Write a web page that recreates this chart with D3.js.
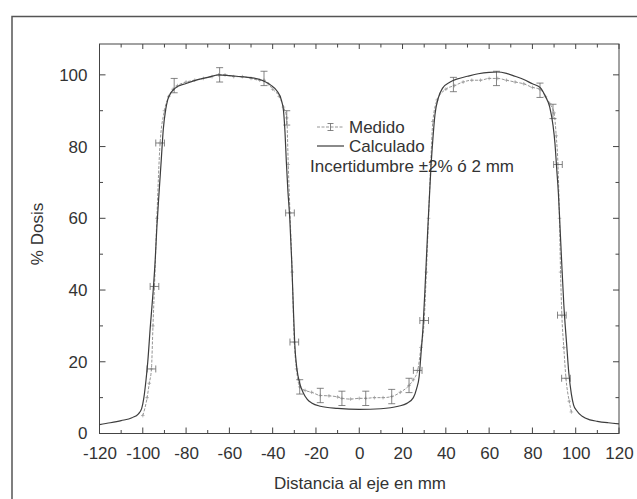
<!DOCTYPE html>
<html><head><meta charset="utf-8">
<script src="https://cdn.jsdelivr.net/npm/d3@7/dist/d3.min.js"></script>
<style>body{margin:0;background:#fff}svg{display:block}text{font-family:"Liberation Sans",Arial,sans-serif;fill:#333}</style>
</head><body><svg id="c" width="637" height="499"></svg>
<script>
// Calculated profile (mm, % dose)
const calcX = [-120,-115,-110,-105,-102,-100.5,-99.5,-98.5,-97.7,-96.5,-95.3,-94.3,-93.5,-92.5,-91.5,-90.5,-89.5,-88.5,-87,-85,-80,-75,-70,-65,-60,-55,-50,-45,-41,-38,-36,-35,-34.3,-33.7,-33,-32.1,-31.2,-30.5,-29.8,-28.8,-27.5,-26,-24,-22,-18,-10,0,10,18,22,25,26.5,27.7,28.5,29.5,30.5,31.7,32.5,33.2,34,35,36.5,38.5,42,45,50,55,60,64,68,72,76,80,83.5,86,88,89.5,90.4,91.2,92,92.8,93.5,94.5,95.8,96.8,98,99,100.4,103,106.6,110,115,120];
const calcY = [2.5,3.0,3.6,4.4,5.5,7,10,15,20,30,39,48,57.5,67,76,85,90,93,95,96.3,97.6,98.6,99.3,100,99.8,99.5,99.2,98.5,97.2,95.5,93,90,84,76,68,60,48,36,25,18,14,11.5,9.5,8.5,7.6,7.0,6.7,6.9,7.6,8.4,10,12.5,16,22,30,42,57.5,67,75,82,89,93.5,96.3,98,98.8,99.6,100.3,100.7,100.8,100.4,99.6,98.7,97.5,96.5,94,91,86,81,74,67,57,48,36,25,17,11,8,6.4,4.8,3.8,3.4,3.0,2.7];
// Measured profile
const measX = [-100,-98,-97,-96,-95.3,-94.6,-93.5,-92,-90,-88,-86,-84,-80,-76,-72,-68,-65,-62,-58,-54,-50,-46,-44,-42,-40,-37,-35,-33.5,-32.8,-32,-31,-30,-29,-27.5,-25,-22,-18,-14,-10,-8,-4,0,3,7,11,15,19,23,25,27,28.5,30,31,32,33,34,36,40,44,48,52,56,60,64,68,72,76,80,83.5,86,88,90,91,91.8,92.5,93,93.6,94.5,95.5,97,98];
const measY = [5,10,14,18,30,41,60,81,90,94,96,97,98,98.5,99,99.5,100,100,99.5,99.5,99,98.5,98.5,97.5,96,94,91,88,75,61.5,45,25.5,18,13,12,11.5,10.6,10.5,10.2,9.8,9.6,9.8,9.8,10,10,10.3,11.5,13.4,15,17.6,24,31.5,45,60,75,87,93,96,97,98,98.5,98.5,99,99,98.5,98,97.5,96.5,96,94,92,89.4,83,75,60,45,33,24,15.4,9,6];
// Points with uncertainty bars: "v" = ±2 %, "h" = ±2 mm
const errX = [-96,-94.6,-92,-85.5,-64.5,-44,-33.5,-32,-30,-27.5,-18,-8,3,15,23,27,30,43.5,63.4,83.5,89.5,91.8,93.6,95.5];
const errY = [18,41,81,97,100,99,88,61.5,25.5,13,10.6,9.8,9.8,10.3,13.4,17.6,31.5,97.3,99,95.7,89.8,75,33,15.4];
const errDir = ["h","h","h","v","v","v","v","h","h","v","v","v","v","v","v","h","h","v","v","v","v","h","h","h"];
const xTicks = [-120,-100,-80,-60,-40,-20,0,20,40,60,80,100,120];
const yTicks = [0,20,40,60,80,100];
const legendLabels = ["Medido","Calculado","Incertidumbre \u00b12% \u00f3 2 mm"];

const svg = d3.select("#c");
const L=99.5, R=619, T=44, B=433.5;
const x = d3.scaleLinear().domain([-120,120]).range([L,R]);
const y = d3.scaleLinear().domain([0,108.6]).range([B,T]);
const axisCol="#444";

// outer frame
svg.append("path").attr("d",`M12,499V16.5H637`).attr("fill","none").attr("stroke","#555").attr("stroke-width",1.5);

// plot frame
svg.append("rect").attr("x",L).attr("y",T).attr("width",R-L).attr("height",B-T)
  .attr("fill","none").attr("stroke",axisCol).attr("stroke-width",1);

const xMinor = d3.range(-110,120,20), yMinor = d3.range(10,108,20);
function ticks(g){
  xTicks.forEach(v=>{ g.append("line").attr("x1",x(v)).attr("x2",x(v)).attr("y1",B).attr("y2",B-6);
                      g.append("line").attr("x1",x(v)).attr("x2",x(v)).attr("y1",T).attr("y2",T+5);});
  xMinor.forEach(v=>{ g.append("line").attr("x1",x(v)).attr("x2",x(v)).attr("y1",B).attr("y2",B-3.5);
                      g.append("line").attr("x1",x(v)).attr("x2",x(v)).attr("y1",T).attr("y2",T+3.5);});
  yTicks.forEach(v=>{ g.append("line").attr("x1",L).attr("x2",L+6).attr("y1",y(v)).attr("y2",y(v));
                      g.append("line").attr("x1",R).attr("x2",R-6).attr("y1",y(v)).attr("y2",y(v));});
  yMinor.forEach(v=>{ g.append("line").attr("x1",L).attr("x2",L+3.5).attr("y1",y(v)).attr("y2",y(v));
                      g.append("line").attr("x1",R).attr("x2",R-3.5).attr("y1",y(v)).attr("y2",y(v));});
}
const tg = svg.append("g").attr("stroke",axisCol).attr("stroke-width",1);
ticks(tg);

// tick labels via axes (lines hidden)
const fmt = d => String(d);
const xa = svg.append("g").attr("transform",`translate(0,${B})`)
  .call(d3.axisBottom(x).tickValues(xTicks).tickSize(0).tickPadding(13).tickFormat(fmt));
xa.select(".domain").remove();
xa.selectAll("text").attr("font-size",17).attr("font-family","Liberation Sans, Arial, sans-serif").attr("fill","#333");
const ya = svg.append("g").attr("transform",`translate(${L},0)`)
  .call(d3.axisLeft(y).tickValues(yTicks).tickSize(0).tickPadding(12).tickFormat(fmt));
ya.select(".domain").remove();
ya.selectAll("text").attr("font-size",17).attr("font-family","Liberation Sans, Arial, sans-serif").attr("fill","#333");

svg.append("text").attr("x",360).attr("y",489).attr("text-anchor","middle").attr("font-size",17).text("Distancia al eje en mm");
svg.append("text").attr("transform","translate(43,234) rotate(-90)").attr("text-anchor","middle").attr("font-size",17).text("% Dosis");

const line = d3.line().x(d=>x(d[0])).y(d=>y(d[1])).curve(d3.curveMonotoneX);
const meas = measX.map((v,i)=>[v,measY[i]]);
const calc = calcX.map((v,i)=>[v,calcY[i]]);
const clipG = svg.append("g");

clipG.append("path").datum(meas).attr("d",line).attr("fill","none").attr("stroke","#8a8a8a").attr("stroke-width",0.9).attr("stroke-dasharray","3,1.5");
// small markers
clipG.append("g").attr("stroke","#999").attr("stroke-width",0.7).selectAll("path").data(meas).join("path")
  .attr("d",d=>`M${x(d[0])-1.8},${y(d[1])}h3.6M${x(d[0])},${y(d[1])-1.8}v3.6`);
// error bars
const eg = clipG.append("g").attr("stroke","#666").attr("stroke-width",0.8).attr("fill","none");
errX.forEach((v,i)=>{
  const cx=x(v), cy=y(errY[i]);
  if(errDir[i]==="v"){
    const y1=y(errY[i]+2), y2=y(errY[i]-2);
    eg.append("path").attr("d",`M${cx},${y1}V${y2}M${cx-3.5},${y1}h7M${cx-3.5},${y2}h7`);
  } else {
    const x1=x(v-2), x2=x(v+2);
    eg.append("path").attr("d",`M${x1},${cy}H${x2}M${x1},${cy-3.5}v7M${x2},${cy-3.5}v7`);
  }
});

clipG.append("path").datum(calc).attr("d",line).attr("fill","none").attr("stroke","#3d3d3d").attr("stroke-width",1.2);

// legend
const lg = svg.append("g");
const lx1=317, lx2=344, tx=349, tb=[133,152,172];
const ly=[tb[0]-6,tb[1]-6];
lg.append("line").attr("x1",lx1).attr("x2",lx2).attr("y1",ly[0]).attr("y2",ly[0]).attr("stroke","#8a8a8a").attr("stroke-width",0.9).attr("stroke-dasharray","3,1.5");
lg.append("path").attr("d",`M${(lx1+lx2)/2},${ly[0]-3.5}v7M${(lx1+lx2)/2-3},${ly[0]-3.5}h6M${(lx1+lx2)/2-3},${ly[0]+3.5}h6`).attr("stroke","#666").attr("stroke-width",0.8);
lg.append("line").attr("x1",lx1).attr("x2",lx2).attr("y1",ly[1]).attr("y2",ly[1]).attr("stroke","#3d3d3d").attr("stroke-width",1.2);
lg.append("text").attr("x",tx).attr("y",tb[0]).attr("font-size",17).text(legendLabels[0]);
lg.append("text").attr("x",tx).attr("y",tb[1]).attr("font-size",17).text(legendLabels[1]);
lg.append("text").attr("x",310).attr("y",tb[2]).attr("font-size",17).text(legendLabels[2]);
</script></body></html>
